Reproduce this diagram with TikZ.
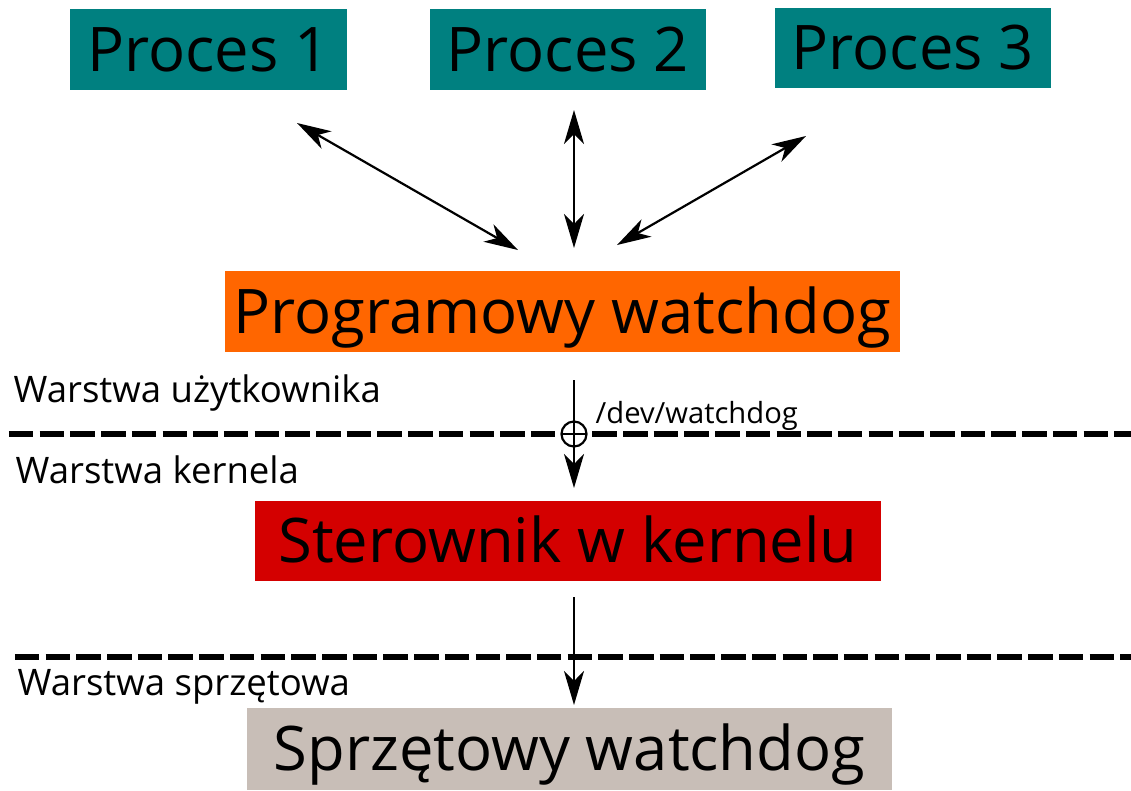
\documentclass[tikz,border=0pt]{standalone}
\usepackage{fontspec}
\setmainfont{Open Sans}
\usetikzlibrary{arrows.meta}

\definecolor{proccolor}{HTML}{008080}
\definecolor{progcolor}{HTML}{FF6600}
\definecolor{drvcolor}{HTML}{D40000}
\definecolor{hwcolor}{HTML}{C8BEB7}

\begin{document}
\begin{tikzpicture}[>={Stealth[length=3.4mm,width=2mm,inset=1mm]},
  box/.style={inner sep=0pt,text height=12.5pt,text depth=0pt,font=\fontsize{17.5}{20}\selectfont},
  layer/.style={anchor=base west,inner sep=0pt,font=\fontsize{10.4}{12}\selectfont},
  border/.style={line width=0.56mm,dash pattern=on 2.45mm off 0.62mm},
  link/.style={line width=0.22mm}]
\useasboundingbox (0,0) rectangle (11.31,-7.90);

% user space
\node[box,fill=proccolor,minimum width=2.77cm,minimum height=0.81cm] (proc1) at (2.085,-0.495) {Proces 1};
\node[box,fill=proccolor,minimum width=2.76cm,minimum height=0.81cm] (proc2) at (5.68,-0.495) {Proces 2};
\node[box,fill=proccolor,minimum width=2.76cm,minimum height=0.80cm] (proc3) at (9.13,-0.48) {Proces 3};
\node[box,fill=progcolor,minimum width=6.75cm,minimum height=0.81cm] (prog) at (5.625,-3.115) {Programowy watchdog};

% kernel and hardware
\node[box,fill=drvcolor,minimum width=6.26cm,minimum height=0.80cm] (drv) at (5.68,-5.41) {Sterownik w kernelu};
\node[box,fill=hwcolor,minimum width=6.45cm,minimum height=0.82cm] (hw) at (5.695,-7.49) {Sprzętowy watchdog};

% layer borders
\draw[border] (0.09,-4.34) -- (11.31,-4.34);
\draw[border] (0.15,-6.57) -- (11.31,-6.57);
\node[layer] (user) at (0.13,-4.02) {Warstwa użytkownika};
\node[layer] (kern) at (0.15,-4.83) {Warstwa kernela};
\node[layer] (hard) at (0.17,-6.95) {Warstwa sprzętowa};

% arrow ends
\coordinate (p1a) at (2.97,-1.23);
\coordinate (p1b) at (5.18,-2.50);
\coordinate (p2a) at (5.74,-1.10);
\coordinate (p2b) at (5.74,-2.48);
\coordinate (p3a) at (8.06,-1.36);
\coordinate (p3b) at (6.17,-2.45);
\coordinate (dev) at (5.74,-4.34);
\coordinate (pa) at (5.74,-3.80);
\coordinate (pb) at (5.74,-4.88);
\coordinate (da) at (5.74,-5.97);
\coordinate (db) at (5.74,-7.05);

\draw[link,<->] (p1a) -- (p1b);
\draw[link,<->] (p2a) -- (p2b);
\draw[link,<->] (p3a) -- (p3b);

% /dev/watchdog crossing
\fill[white] (dev) circle (0.15);
\draw[link] (dev) circle (0.125);
\draw[link] ([xshift=-1.25mm]dev) -- ([xshift=1.25mm]dev);
\draw[link,->] (pa) -- (pb);
\node[anchor=base west,inner sep=0pt,font=\fontsize{8.3}{10}\selectfont] (devname) at (5.95,-4.23) {/dev/watchdog};

\draw[link,->] (da) -- (db);
\end{tikzpicture}
\end{document}
